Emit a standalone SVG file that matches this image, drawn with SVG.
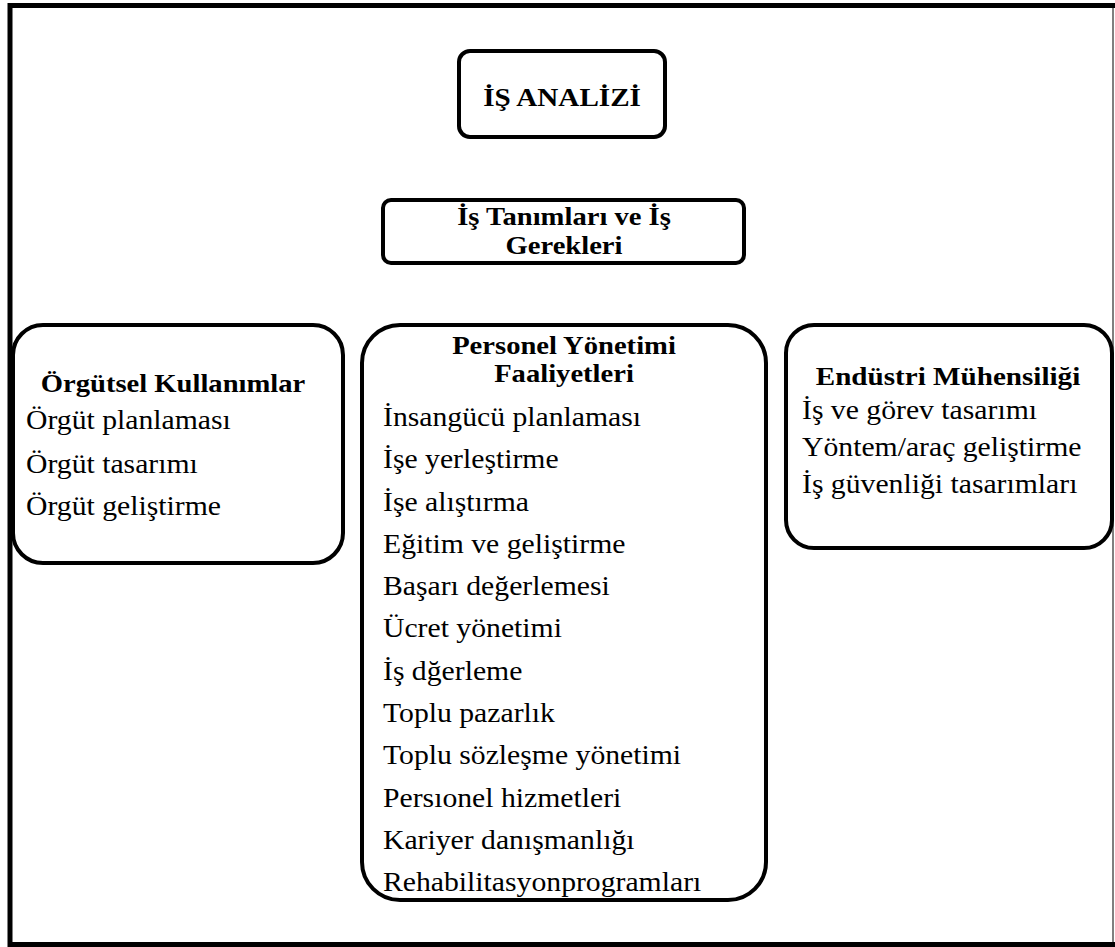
<svg xmlns="http://www.w3.org/2000/svg" width="1115" height="947" viewBox="0 0 1115 947">
<style>
.box{fill:#fff;stroke:#000;stroke-width:4}
.t{font-family:"Liberation Serif","Times New Roman",serif;font-size:27px;fill:#000}
.b{font-family:"Liberation Serif","Times New Roman",serif;font-size:26px;font-weight:bold;fill:#000}
</style>
<rect x="0" y="0" width="1115" height="947" fill="#fff"/>
<g id="frame">
<line x1="1113" y1="5" x2="1113" y2="944" stroke="#808080" stroke-width="2"/>
<line x1="10" y1="3" x2="10" y2="947" stroke="#000" stroke-width="5"/>
<line x1="8" y1="5.5" x2="1115" y2="5.5" stroke="#000" stroke-width="5"/>
<line x1="8" y1="944.5" x2="1115" y2="944.5" stroke="#000" stroke-width="5"/>
</g>
<g id="connectors"></g>
<g id="is-analizi">
<rect class="box" x="459" y="51" width="206" height="86" rx="11"/>
<text class="b" x="0" y="106" text-anchor="middle" transform="translate(562,0) scale(1.12,1)">İŞ ANALİZİ</text>
</g>
<g id="is-tanimlari">
<rect class="box" x="383" y="200" width="361" height="63" rx="8"/>
<g transform="translate(564,0) scale(1.1,1)">
<text class="b" x="0" y="225" text-anchor="middle" font-size="25">İş Tanımları ve İş</text>
<text class="b" x="0" y="254" text-anchor="middle" font-size="25">Gerekleri</text>
</g>
</g>
<g id="orgutsel">
<rect class="box" x="13" y="325" width="330" height="238" rx="30"/>
<g transform="translate(173,0) scale(1.1,1)">
<text class="b" x="0" y="392" text-anchor="middle">Örgütsel Kullanımlar</text>
</g>
<g transform="translate(26,0) scale(1.1,1)">
<text class="t" x="0" y="429">Örgüt planlaması</text>
<text class="t" x="0" y="473">Örgüt tasarımı</text>
<text class="t" x="0" y="515">Örgüt geliştirme</text>
</g>
</g>
<g id="personel">
<rect class="box" x="362" y="325" width="404" height="575" rx="38"/>
<g transform="translate(564,0) scale(1.1,1)">
<text class="b" x="0" y="354" text-anchor="middle">Personel Yönetimi</text>
<text class="b" x="0" y="382" text-anchor="middle">Faaliyetleri</text>
</g>
<g transform="translate(383,0) scale(1.1,1)">
<text class="t" x="0" y="426">İnsangücü planlaması</text>
<text class="t" x="0" y="468">İşe yerleştirme</text>
<text class="t" x="0" y="511">İşe alıştırma</text>
<text class="t" x="0" y="553">Eğitim ve geliştirme</text>
<text class="t" x="0" y="595">Başarı değerlemesi</text>
<text class="t" x="0" y="637">Ücret yönetimi</text>
<text class="t" x="0" y="680">İş dğerleme</text>
<text class="t" x="0" y="722">Toplu pazarlık</text>
<text class="t" x="0" y="764">Toplu sözleşme yönetimi</text>
<text class="t" x="0" y="807">Persıonel hizmetleri</text>
<text class="t" x="0" y="849">Kariyer danışmanlığı</text>
<text class="t" x="0" y="891">Rehabilitasyonprogramları</text>
</g>
</g>
<g id="endustri">
<rect class="box" x="786" y="325" width="326" height="223" rx="28"/>
<g transform="translate(948,0) scale(1.12,1)">
<text class="b" x="0" y="385" text-anchor="middle">Endüstri Mühensiliği</text>
</g>
<g transform="translate(802,0) scale(1.1,1)">
<text class="t" x="0" y="419">İş ve görev tasarımı</text>
<text class="t" x="0" y="456">Yöntem/araç geliştirme</text>
<text class="t" x="0" y="493">İş güvenliği tasarımları</text>
</g>
</g>
</svg>
